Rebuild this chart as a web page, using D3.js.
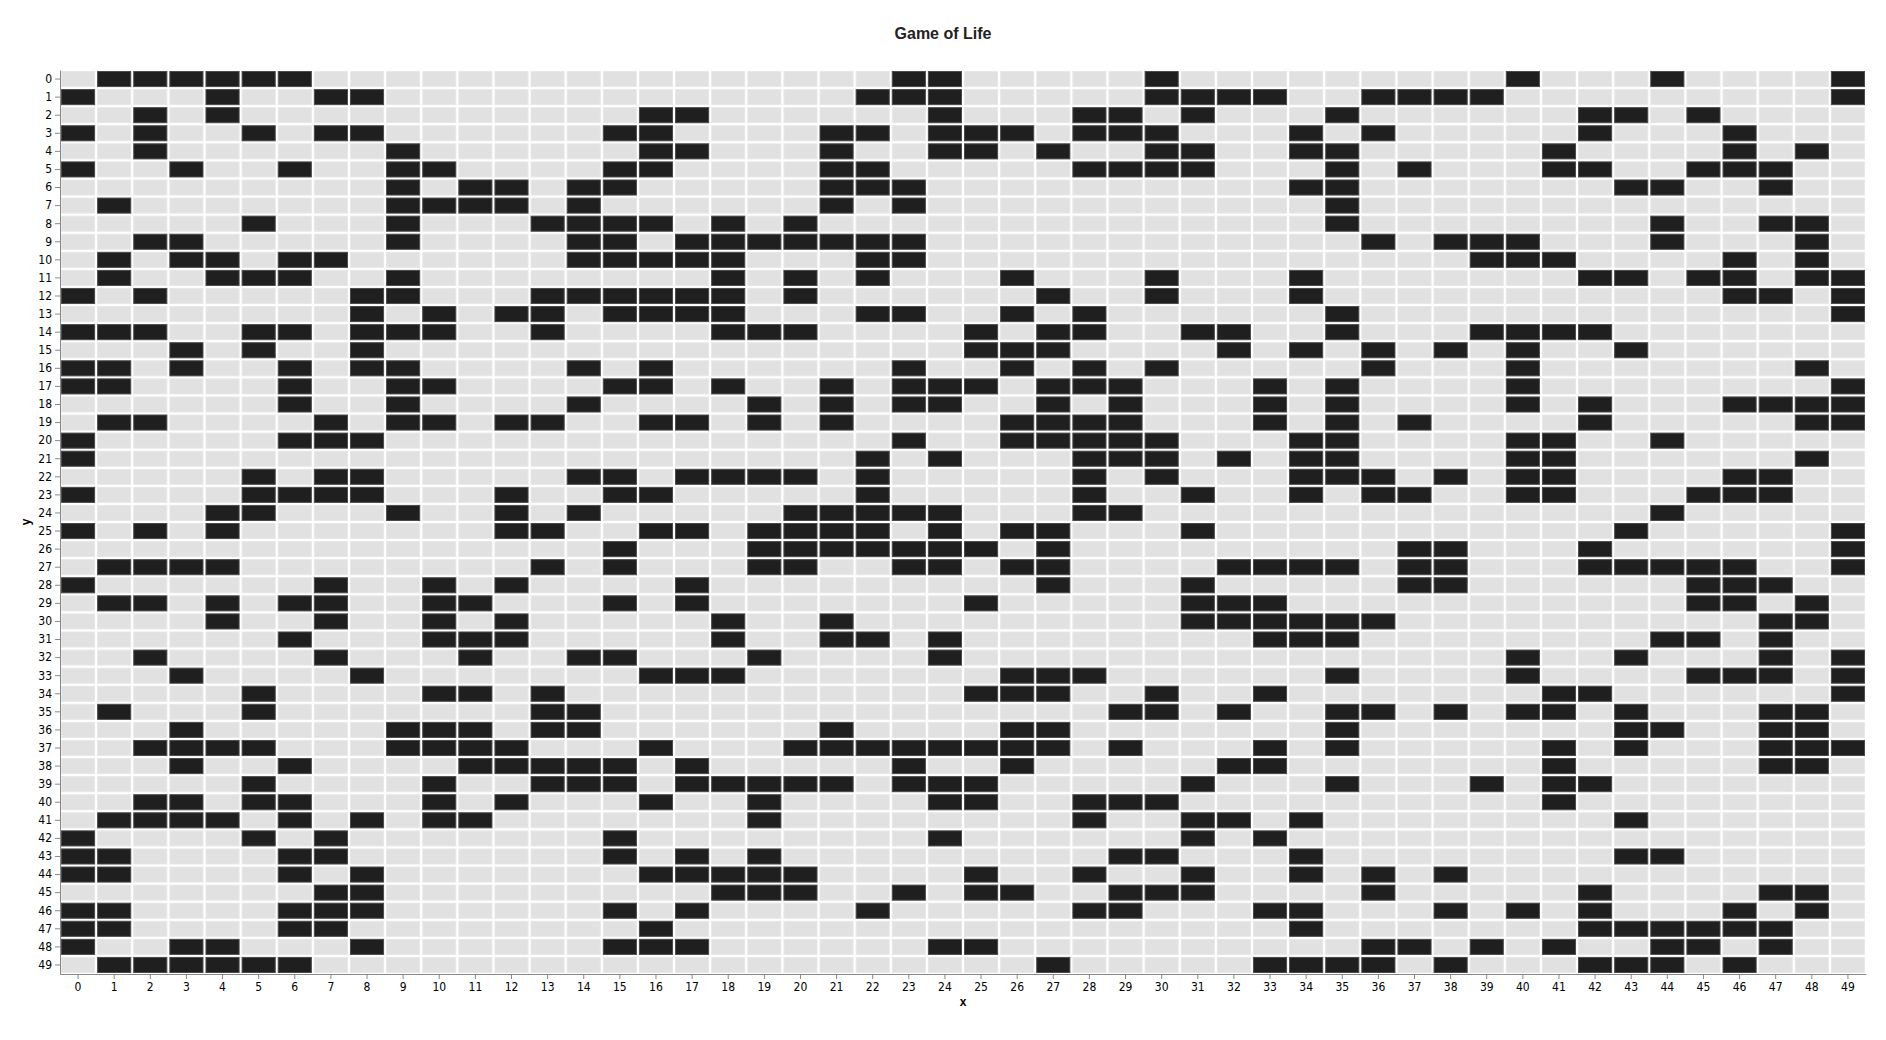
<!DOCTYPE html>
<html>
<head>
<meta charset="utf-8">
<script src="https://cdn.jsdelivr.net/npm/d3@7"></script>
<style>
  html, body { margin: 0; padding: 0; background: #ffffff; }
  svg { display: block; }
  .tick text { font-family: "Liberation Sans Narrow", "DejaVu Sans Condensed", "Liberation Sans", sans-serif; }
</style>
</head>
<body>
<svg id="chart" width="1886" height="1040"></svg>
<script>
// ---- Data ----
const chartTitle = "Game of Life";
const xCategories = [0,1,2,3,4,5,6,7,8,9,10,11,12,13,14,15,16,17,18,19,20,21,22,23,24,25,26,27,28,29,30,31,32,33,34,35,36,37,38,39,40,41,42,43,44,45,46,47,48,49];
const yCategories = [0,1,2,3,4,5,6,7,8,9,10,11,12,13,14,15,16,17,18,19,20,21,22,23,24,25,26,27,28,29,30,31,32,33,34,35,36,37,38,39,40,41,42,43,44,45,46,47,48,49];
// alive cells: for each y row, the list of x columns that are alive
const aliveByRow = [
  [1,2,3,4,5,6,23,24,30,40,44,49],
  [0,4,7,8,22,23,24,30,31,32,33,36,37,38,39,49],
  [2,4,16,17,24,28,29,31,35,42,43,45],
  [0,2,5,7,8,15,16,21,22,24,25,26,28,29,30,34,36,42,46],
  [2,9,16,17,21,24,25,27,30,31,34,35,41,46,48],
  [0,3,6,9,10,15,16,21,22,28,29,30,31,35,37,41,42,45,46,47],
  [9,11,12,14,15,21,22,23,34,35,43,44,47],
  [1,9,10,11,12,14,21,23,35],
  [5,9,13,14,15,16,18,20,35,44,47,48],
  [2,3,9,14,15,17,18,19,20,21,22,23,36,38,39,40,44,48],
  [1,3,4,6,7,14,15,16,17,18,22,23,39,40,41,46,48],
  [1,4,5,6,9,18,20,22,26,30,34,42,43,45,46,48,49],
  [0,2,8,9,13,14,15,16,17,18,20,27,30,34,46,47,49],
  [8,10,12,13,15,16,17,18,22,23,26,28,35,49],
  [0,1,2,5,6,8,9,10,13,18,19,20,25,27,28,31,32,35,39,40,41,42],
  [3,5,8,25,26,27,32,34,36,38,40,43],
  [0,1,3,6,8,9,14,16,23,26,28,30,36,40,48],
  [0,1,6,9,10,15,16,18,21,23,24,25,27,28,29,33,35,40,49],
  [6,9,14,19,21,23,24,27,29,33,35,40,42,46,47,48,49],
  [1,2,7,9,10,12,13,16,17,19,21,26,27,28,29,33,35,37,42,48,49],
  [0,6,7,8,23,26,27,28,29,30,34,35,40,41,44],
  [0,22,24,28,29,30,32,34,35,40,41,48],
  [5,7,8,14,15,17,18,19,20,22,28,30,34,35,36,38,40,41,46,47],
  [0,5,6,7,8,12,15,16,22,28,31,34,36,37,40,41,45,46,47],
  [4,5,9,12,14,20,21,22,23,24,28,29,44],
  [0,2,4,12,13,16,17,19,20,21,22,24,26,27,31,43,49],
  [15,19,20,21,22,23,24,25,27,37,38,42,49],
  [1,2,3,4,13,15,19,20,23,24,26,27,32,33,34,35,37,38,42,43,44,45,46,49],
  [0,7,10,12,17,27,31,37,38,45,46,47],
  [1,2,4,6,7,10,11,15,17,25,31,32,33,45,46,48],
  [4,7,10,12,18,21,31,32,33,34,35,36,47,48],
  [6,10,11,12,18,21,22,24,33,34,35,44,45,47],
  [2,7,11,14,15,19,24,40,43,47,49],
  [3,8,16,17,18,26,27,28,35,40,45,46,47,49],
  [5,10,11,13,25,26,27,30,33,41,42,49],
  [1,5,13,14,29,30,32,35,36,38,40,41,43,47,48],
  [3,9,10,11,13,14,21,26,27,35,43,44,47,48],
  [2,3,4,5,9,10,11,12,16,20,21,22,23,24,25,26,27,29,33,35,41,43,47,48,49],
  [3,6,11,12,13,14,15,17,23,26,32,33,41,47,48],
  [5,10,13,14,15,17,18,19,20,21,23,24,25,31,35,39,41,42],
  [2,3,5,6,10,12,16,19,24,25,28,29,30,41],
  [1,2,3,4,6,8,10,11,19,28,31,32,34,43],
  [0,5,7,15,24,31,33],
  [0,1,6,7,15,17,19,29,30,34,43,44],
  [0,1,6,8,16,17,18,19,20,25,28,31,34,36,38],
  [7,8,18,19,20,23,25,26,29,30,31,36,42,47,48],
  [0,1,6,7,8,15,17,22,28,29,33,34,38,40,42,46,48],
  [0,1,6,7,16,34,42,43,44,45,46,47],
  [0,3,4,8,15,16,17,24,25,36,37,39,41,44,45,47],
  [1,2,3,4,5,6,27,33,34,35,36,38,42,43,44,46]
];
const stateLabels = ["dead", "alive"];

// ---- Chart ----
const svg = d3.select("#chart");
const plot = { left: 60, right: 1866, top: 70, bottom: 974 };

const x = d3.scaleBand().domain(xCategories).range([plot.left, plot.right]).padding(0);
const y = d3.scaleBand().domain(yCategories).range([plot.top, plot.bottom]).padding(0);
const color = d3.scaleOrdinal().domain(stateLabels).range(["#e1e1e1", "#1f1f1f"]);
const edge = d3.scaleOrdinal().domain(stateLabels).range(["#e8e8e8", "#4a4a4a"]);

const cells = [];
yCategories.forEach((yy, i) => {
  const alive = new Set(aliveByRow[i]);
  xCategories.forEach(xx => {
    cells.push({ x: xx, y: yy, state: alive.has(xx) ? "alive" : "dead" });
  });
});

svg.append("g")
  .selectAll("rect")
  .data(cells)
  .join("rect")
  .attr("x", d => x(d.x) + 1.5)
  .attr("y", d => y(d.y) + 1.5)
  .attr("width", x.bandwidth() - 3)
  .attr("height", y.bandwidth() - 3)
  .attr("fill", d => color(d.state))
  .attr("stroke", d => edge(d.state))
  .attr("stroke-width", 1);

// Axes
const xAxis = svg.append("g")
  .attr("transform", `translate(0,${plot.bottom})`)
  .call(d3.axisBottom(x).tickSize(5).tickSizeOuter(0).tickPadding(3));
const yAxis = svg.append("g")
  .attr("transform", `translate(${plot.left},0)`)
  .call(d3.axisLeft(y).tickSize(5).tickSizeOuter(0).tickPadding(3));

[xAxis, yAxis].forEach(g => {
  g.select(".domain").attr("stroke", "#888");
  g.selectAll(".tick line").attr("stroke", "#888");
  g.selectAll(".tick text").attr("font-size", 12).attr("fill", "#000");
});

// Axis titles
svg.append("text")
  .attr("x", (plot.left + plot.right) / 2)
  .attr("y", 1006)
  .attr("text-anchor", "middle")
  .attr("font-family", "Liberation Sans, Arial, sans-serif")
  .attr("font-weight", "bold")
  .attr("font-size", 12)
  .attr("fill", "#000")
  .text("x");

svg.append("text")
  .attr("transform", `translate(30,${(plot.top + plot.bottom) / 2}) rotate(-90)`)
  .attr("text-anchor", "middle")
  .attr("font-family", "Liberation Sans, Arial, sans-serif")
  .attr("font-weight", "bold")
  .attr("font-size", 12)
  .attr("fill", "#000")
  .text("y");

// Title
svg.append("text")
  .attr("x", 943)
  .attr("y", 39)
  .attr("text-anchor", "middle")
  .attr("font-family", "Liberation Sans, Arial, sans-serif")
  .attr("font-weight", "bold")
  .attr("font-size", 16)
  .attr("fill", "#222")
  .text(chartTitle);
</script>
</body>
</html>
